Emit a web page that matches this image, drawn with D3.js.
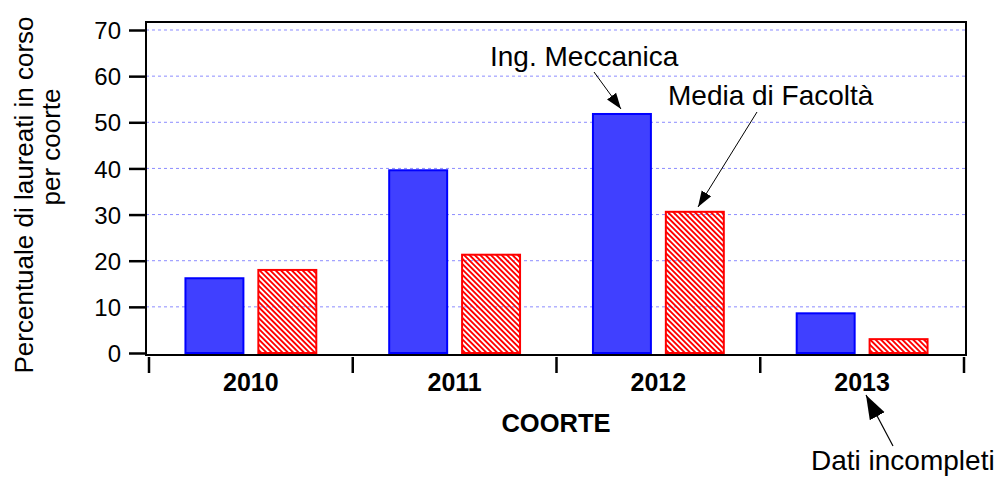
<!DOCTYPE html>
<html>
<head>
<meta charset="utf-8">
<script src="https://cdn.jsdelivr.net/npm/d3@7"></script>
<style>
  body { margin: 0; background: #fff; }
  text { font-family: Arial, "Liberation Sans", sans-serif; }
</style>
</head>
<body>
<script>
// dati
var coorti = ["2010", "2011", "2012", "2013"];
var meccanica = [16.2, 39.6, 51.8, 8.6];
var facolta = [18.0, 21.3, 30.6, 3.0];
var yTicks = [0, 10, 20, 30, 40, 50, 60, 70];

var W = 999, H = 481;
// area del grafico (niente "top": e' riservato da window)
var pLeft = 146, pRight = 966, pTop = 22, pBottom = 355;

var svg = d3.select("body").append("svg")
    .attr("width", W)
    .attr("height", H);

var defs = svg.append("defs");
defs.append("pattern")
    .attr("id", "hatch")
    .attr("patternUnits", "userSpaceOnUse")
    .attr("width", 3.8)
    .attr("height", 10)
    .attr("patternTransform", "rotate(-45)")
  .append("line")
    .attr("x1", 0.9).attr("y1", 0)
    .attr("x2", 0.9).attr("y2", 10)
    .attr("stroke", "#ff0000")
    .attr("stroke-width", 1.7)
    .attr("shape-rendering", "crispEdges");

var y = d3.scaleLinear()
    .domain([0, 70])
    .range([353, 30]);

var x = d3.scaleBand()
    .domain(coorti)
    .range([149, 964]);

var x1 = d3.scaleBand()
    .domain(["mec", "fac"])
    .range([0, x.bandwidth()])
    .paddingInner(0.205)
    .paddingOuter(0.5);

// griglia
svg.append("g")
    .selectAll("line")
    .data(yTicks.filter(function(d) { return d > 0; }))
    .enter().append("line")
    .attr("x1", pLeft).attr("x2", pRight)
    .attr("y1", function(d) { return y(d); })
    .attr("y2", function(d) { return y(d); })
    .attr("stroke", "#8c8cff")
    .attr("stroke-width", 1)
    .attr("stroke-dasharray", "3,3");

// barre
var gruppi = svg.append("g").selectAll("g")
    .data(coorti)
    .enter().append("g")
    .attr("transform", function(d) { return "translate(" + x(d) + ",0)"; });

gruppi.append("rect")
    .attr("x", x1("mec"))
    .attr("width", x1.bandwidth())
    .attr("y", function(d, i) { return y(meccanica[i]); })
    .attr("height", function(d, i) { return y(0) - y(meccanica[i]); })
    .attr("fill", "#4040ff")
    .attr("stroke", "#0000ff")
    .attr("stroke-width", 2);

gruppi.append("rect")
    .attr("x", x1("fac"))
    .attr("width", x1.bandwidth())
    .attr("y", function(d, i) { return y(facolta[i]); })
    .attr("height", function(d, i) { return y(0) - y(facolta[i]); })
    .attr("fill", "url(#hatch)")
    .attr("stroke", "#ff0000")
    .attr("stroke-width", 2);

// cornice
svg.append("rect")
    .attr("x", pLeft).attr("y", pTop)
    .attr("width", pRight - pLeft)
    .attr("height", pBottom - pTop)
    .attr("fill", "none")
    .attr("stroke", "#000")
    .attr("stroke-width", 2);

// asse y
var yAxis = d3.axisLeft(y)
    .tickValues(yTicks)
    .tickSize(17)
    .tickPadding(8);
var gy = svg.append("g")
    .attr("transform", "translate(" + pLeft + ",0)")
    .call(yAxis);
gy.select(".domain").remove();
gy.selectAll(".tick line").attr("stroke", "#000").attr("stroke-width", 2.5);
gy.selectAll(".tick text")
    .attr("fill", "#000")
    .style("font-size", "24px")
    .attr("dy", "0.36em");

// asse x: tacche ai bordi delle categorie
var bordi = coorti.map(function(d) { return x(d); });
bordi.push(x(coorti[coorti.length - 1]) + x.bandwidth());
var gx = svg.append("g");
gx.selectAll("line")
    .data(bordi)
    .enter().append("line")
    .attr("x1", function(d) { return d; })
    .attr("x2", function(d) { return d; })
    .attr("y1", 357).attr("y2", 373)
    .attr("stroke", "#000")
    .attr("stroke-width", 2.5);
gx.selectAll("text")
    .data(coorti)
    .enter().append("text")
    .attr("x", function(d) { return x(d) + x.bandwidth() / 2; })
    .attr("y", 391)
    .attr("text-anchor", "middle")
    .style("font-size", "25px")
    .style("font-weight", "bold")
    .text(function(d) { return d; });

// titoli assi
svg.append("text")
    .attr("x", 556).attr("y", 432)
    .attr("text-anchor", "middle")
    .style("font-size", "25.5px")
    .style("font-weight", "bold")
    .text("COORTE");

svg.append("text")
    .attr("transform", "translate(33,195) rotate(-90)")
    .attr("text-anchor", "middle")
    .style("font-size", "26px")
    .text("Percentuale di laureati in corso");
svg.append("text")
    .attr("transform", "translate(60,147) rotate(-90)")
    .attr("text-anchor", "middle")
    .style("font-size", "26px")
    .text("per coorte");

// annotazioni
function freccia(id, size) {
  defs.append("marker")
      .attr("id", id)
      .attr("viewBox", "0 0 10 10")
      .attr("refX", 10).attr("refY", 5)
      .attr("markerWidth", size).attr("markerHeight", size)
      .attr("markerUnits", "userSpaceOnUse")
      .attr("orient", "auto")
    .append("path")
      .attr("d", "M0,1.5 L10,5 L0,8.5 Z")
      .attr("fill", "#000");
}
freccia("arr", 16);
freccia("arrBig", 24);

svg.append("text")
    .attr("x", 490).attr("y", 66)
    .style("font-size", "28px")
    .text("Ing. Meccanica");
svg.append("line")
    .attr("x1", 594).attr("y1", 72)
    .attr("x2", 621).attr("y2", 109)
    .attr("stroke", "#000").attr("stroke-width", 1)
    .attr("marker-end", "url(#arr)");

svg.append("text")
    .attr("x", 668).attr("y", 105)
    .style("font-size", "28px")
    .text("Media di Facoltà");
svg.append("line")
    .attr("x1", 757).attr("y1", 112)
    .attr("x2", 698).attr("y2", 207)
    .attr("stroke", "#000").attr("stroke-width", 1)
    .attr("marker-end", "url(#arr)");

svg.append("text")
    .attr("x", 811).attr("y", 470)
    .style("font-size", "28px")
    .text("Dati incompleti");
svg.append("line")
    .attr("x1", 893).attr("y1", 446)
    .attr("x2", 866).attr("y2", 395)
    .attr("stroke", "#000").attr("stroke-width", 1.2)
    .attr("marker-end", "url(#arrBig)");
</script>
</body>
</html>
